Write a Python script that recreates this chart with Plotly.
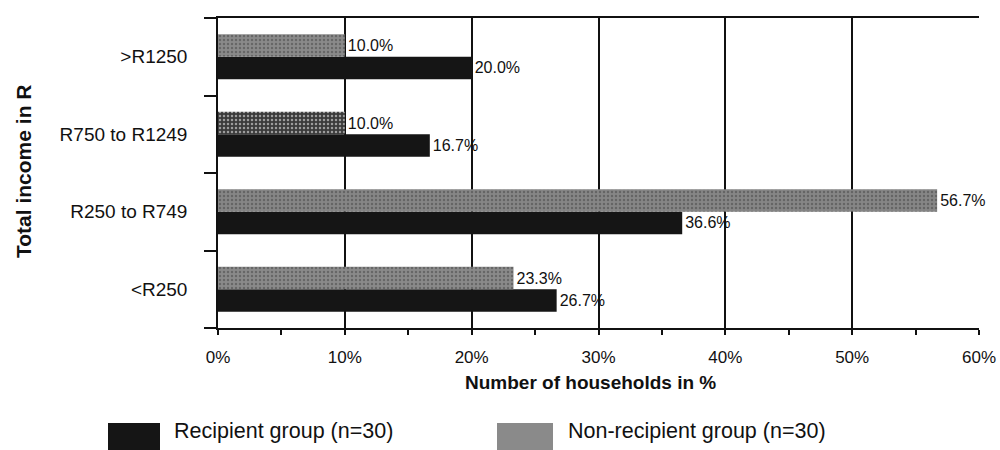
import plotly.graph_objects as go

# Income bands (bottom to top) and share of households per group, in %
categories = ["<R250", "R250 to R749", "R750 to R1249", ">R1250"]
recipient = [26.7, 36.6, 16.7, 20.0]
non_recipient = [23.3, 56.7, 10.0, 10.0]
x_ticks = [0, 10, 20, 30, 40, 50, 60]
x_tick_labels = ["0%", "10%", "20%", "30%", "40%", "50%", "60%"]

W, H = 1000, 450
L, R, T, B = 218, 21, 18, 122
PW, PH = W - L - R, H - T - B


def px_x(p):
    return (p - L) / PW


def px_y(p):
    return (H - B - p) / PH


FONT = "Arial, Liberation Sans, sans-serif"

fig = go.Figure()

fig.add_trace(go.Bar(
    y=categories, x=recipient, orientation="h",
    name="Recipient group (n=30)",
    marker=dict(color="#151515", line=dict(width=0)),
    texttemplate="%{x:.1f}%", textposition="outside",
    textfont=dict(family=FONT, size=16, color="#111"),
    cliponaxis=False, constraintext="none",
))

fig.add_trace(go.Bar(
    y=categories, x=non_recipient, orientation="h",
    name="Non-recipient group (n=30)",
    marker=dict(
        color=["#8a8a8a", "#868686", "#3a3a3a", "#8a8a8a"],
        line=dict(width=0),
        pattern=dict(shape=".", fgcolor=["#676767", "#676767", "#9a9a9a", "#676767"],
                     size=4, solidity=0.3, fillmode="overlay"),
    ),
    texttemplate="%{x:.1f}%", textposition="outside",
    textfont=dict(family=FONT, size=16, color="#111"),
    cliponaxis=False, constraintext="none",
))

fig.update_layout(
    width=W, height=H,
    margin=dict(l=L, r=R, t=T, b=B, autoexpand=False),
    paper_bgcolor="white", plot_bgcolor="white",
    barmode="group", bargap=0.42, bargroupgap=0,
    showlegend=False,
    font=dict(family=FONT, color="#111"),
)

fig.update_xaxes(
    range=[0, 60], tickvals=x_ticks, ticktext=x_tick_labels,
    tickfont=dict(size=17, color="#111"),
    ticklabelstandoff=8, ticklabeloverflow="allow", automargin=False,
    showgrid=True, gridcolor="#111", gridwidth=1.5,
    showline=True, linecolor="#111", linewidth=1.5, mirror=True,
    ticks="outside", ticklen=5, tickcolor="#111", tickwidth=1.5,
    minor=dict(dtick=5, ticks="outside", ticklen=5, tickcolor="#111", tickwidth=1.5, showgrid=False),
    zeroline=False, fixedrange=True,
)

fig.update_yaxes(
    categoryorder="array", categoryarray=categories,
    tickson="boundaries", ticks="outside", ticklen=12, tickcolor="#111", tickwidth=1.5,
    ticklabelstandoff=25, automargin=False,
    tickfont=dict(size=19, color="#111"),
    showgrid=False,
    showline=True, linecolor="#111", linewidth=1.5,
    fixedrange=True,
)

# Axis titles
fig.add_annotation(
    text="<b>Number of households in %</b>", xref="paper", yref="paper",
    x=px_x(590), y=px_y(382), xanchor="center", yanchor="middle",
    showarrow=False, font=dict(family=FONT, size=19, color="#111"),
)
fig.add_annotation(
    text="<b>Total income in R</b>", xref="paper", yref="paper",
    x=px_x(23), y=px_y(172), xanchor="center", yanchor="middle", textangle=-90,
    showarrow=False, font=dict(family=FONT, size=21, color="#111"),
)

# Legend swatches and labels
fig.add_shape(type="rect", xref="paper", yref="paper",
              x0=px_x(108), x1=px_x(160), y0=px_y(450), y1=px_y(423),
              fillcolor="#151515", line=dict(width=0))
fig.add_shape(type="rect", xref="paper", yref="paper",
              x0=px_x(497), x1=px_x(553), y0=px_y(450), y1=px_y(423),
              fillcolor="#8a8a8a", line=dict(width=0))
fig.add_annotation(
    text="Recipient group (n=30)", xref="paper", yref="paper",
    x=px_x(172), y=px_y(431), xanchor="left", yanchor="middle",
    showarrow=False, font=dict(family=FONT, size=21.5, color="#111"),
)
fig.add_annotation(
    text="Non-recipient group (n=30)", xref="paper", yref="paper",
    x=px_x(566), y=px_y(431), xanchor="left", yanchor="middle",
    showarrow=False, font=dict(family=FONT, size=21.5, color="#111"),
)

fig.write_html("out.html")
